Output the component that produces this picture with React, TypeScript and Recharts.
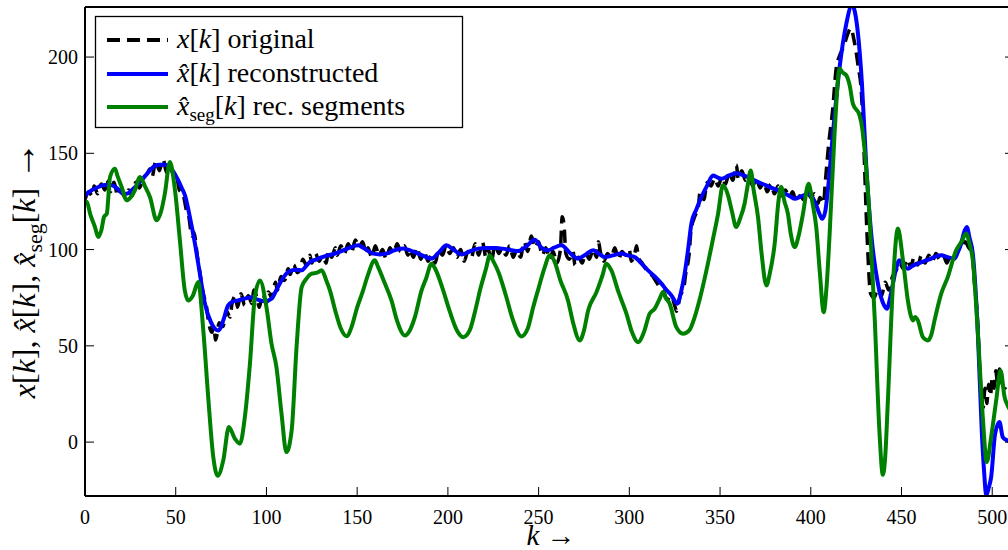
import React from "react";
import { LineChart, Line, XAxis, YAxis } from "recharts";

// axis ticks
const K_TICKS = [0, 50, 100, 150, 200, 250, 300, 350, 400, 450, 500];
const Y_TICKS = [0, 50, 100, 150, 200];

// x[k] original (noisy, dashed black)
const ORIG_K = [
  0, 2, 4, 5, 7, 9, 11, 12, 14, 16, 18, 20, 22, 24, 26, 28, 30, 32, 34, 36, 37, 39, 41, 43, 45, 47, 49, 50,
  52, 54, 56, 57, 59, 60, 62, 63, 65, 67, 68, 70, 71, 72, 74, 76, 78, 80, 81, 83, 84, 86, 88, 90, 92, 93,
  95, 96, 98, 100, 101, 103, 105, 106, 108, 110, 112, 113, 115, 117, 119, 120, 122, 124, 125, 127, 129, 131,
  133, 134, 136, 138, 139, 141, 143, 145, 147, 149, 151, 153, 155, 156, 158, 160, 162, 164, 166, 168, 170,
  172, 174, 176, 178, 179, 181, 183, 185, 187, 189, 191, 193, 195, 197, 199, 201, 203, 205, 207, 209, 211,
  213, 215, 217, 219, 221, 222, 224, 226, 228, 230, 232, 234, 236, 238, 240, 242, 244, 246, 248, 250, 252,
  254, 256, 258, 260, 262, 263, 264, 265, 267, 269, 270, 272, 274, 276, 278, 280, 282, 283, 284, 286, 288,
  290, 292, 294, 296, 298, 300, 301, 303, 304, 305, 307, 309, 311, 313, 315, 317, 319, 321, 323, 325, 326,
  328, 330, 331, 333, 334, 336, 338, 339, 341, 343, 345, 347, 349, 351, 353, 355, 357, 359, 360, 362, 364,
  366, 368, 370, 372, 374, 376, 378, 380, 382, 384, 386, 388, 390, 392, 394, 396, 398, 400, 402, 404, 405,
  407, 408, 410, 412, 414, 416, 418, 420, 422, 424, 426, 428, 429, 431, 433, 435, 437, 439, 441, 443, 445,
  447, 449, 451, 453, 455, 457, 459, 461, 463, 465, 467, 469, 471, 473, 475, 477, 479, 481, 483, 485, 487,
  489, 490, 492, 493, 494, 495, 496, 497, 498, 499, 500, 501, 502, 503, 504, 505, 507, 509, 511,
];
const ORIG_X = [
  126, 130, 128, 133, 129, 134, 131, 136, 130, 135, 128, 131, 127, 131, 128, 135, 132, 137, 139, 142, 138, 146, 141, 147, 140, 143, 138, 140,
  131, 129, 120, 118, 107, 109, 96, 90, 78, 70, 63, 57, 60, 53, 62, 60, 68, 65, 72, 76, 70, 77, 71, 76, 72, 79,
  74, 70, 77, 72, 78, 75, 83, 79, 86, 84, 90, 87, 92, 88, 91, 95, 92, 97, 93, 98, 94, 97,
  93, 99, 96, 101, 97, 102, 98, 103, 99, 105, 101, 104, 98, 101, 96, 102, 97, 100, 95, 101, 98,
  103, 99, 102, 97, 100, 96, 101, 95, 99, 94, 97, 93, 100, 97, 102, 98, 101, 96, 100, 94, 99,
  96, 103, 97, 104, 96, 101, 94, 103, 98, 101, 97, 102, 96, 100, 96, 104, 99, 107, 101, 104, 97,
  101, 95, 99, 93, 100, 117, 113, 98, 95, 99, 92, 96, 93, 98, 95, 100, 96, 104, 99, 94, 98,
  96, 101, 95, 99, 97, 100, 94, 98, 102, 96, 93, 90, 88, 86, 83, 80, 78, 74, 76, 71, 68,
  76, 80, 87, 98, 110, 117, 122, 130, 126, 135, 133, 137, 133, 138, 134, 140, 136, 144, 137, 141, 136,
  138, 133, 137, 132, 135, 130, 134, 129, 133, 128, 131, 127, 130, 125, 128, 126, 131, 127, 129, 124, 127,
  124, 135, 156, 172, 194, 201, 205, 211, 215, 208, 196, 180, 160, 108, 77, 75, 80, 76, 83, 79, 86,
  89, 93, 90, 95, 91, 96, 92, 97, 93, 97, 94, 98, 95, 97, 93, 97, 95, 100, 102, 104, 101,
  98, 85, 62, 40, 25, 18, 28, 20, 30, 24, 33, 28, 37, 30, 38, 32, 28, 31, 29,
];

// x^[k] reconstructed (blue)
const REC_K = [
  0, 1, 4, 7.3, 11, 14.7, 18, 21, 23, 26, 29.4, 32.5, 35.8, 38.5, 41.3, 44, 46.8, 49, 51.4, 53.3, 55.1, 57.8,
  60.6, 63.3, 66.1, 69.4, 71.5, 73.4, 75, 76.2, 78.9, 81.5, 84.4, 88, 91.8, 95, 99.1, 102.8, 105.5, 108.3,
  111, 113.9, 116.5, 119.4, 121.5, 123.9, 126.7, 128.5, 132, 137.7, 142, 146, 150.6, 154, 158.8, 162.5,
  166.2, 170, 175.3, 179.5, 183.6, 187, 191, 195, 199.2, 203, 207.5, 212, 216.7, 221, 225.8, 230, 234.5,
  238.7, 243, 247.9, 251.5, 255.2, 258.5, 262.6, 267, 271.7, 276, 280, 283, 286.4, 291, 295.6, 299, 303,
  306.5, 310.3, 314, 317.7, 320.5, 323.2, 326.5, 328.5, 330.5, 332.5, 334.2, 337, 339.7, 343, 346.1, 348.5,
  350.7, 355, 359, 363, 367.2, 371, 375, 378.5, 381.9, 385, 388, 391.1, 394.5, 398.4, 401, 403, 404.8,
  406.3, 408, 409.4, 412.2, 415.9, 419.6, 422.7, 426, 428.2, 430.6, 433.3, 437, 439.5, 442.1, 443.5, 445.3,
  447, 448.9, 451, 453.5, 456, 459, 462.5, 466.4, 469, 471.9, 475.5, 479.2, 481, 482.9, 484.5, 486, 487.5,
  489.3, 492.1, 494.3, 495.5, 496.7, 498, 499.4, 501.6, 504, 505.8, 508.2, 511,
];
const REC_X = [
  128, 129, 131, 132.5, 133.5, 133.4, 131.5, 129, 129, 131, 134.2, 137.5, 141.1, 143.5, 144.1, 144, 142.9, 140, 135.9, 132, 128.2, 116.9,
  103.1, 87.5, 71.9, 62.3, 59, 58, 60, 63.2, 71, 73, 73.6, 74.5, 75.3, 74, 73.1, 74.5, 79, 84,
  87.5, 89.2, 89.5, 89.2, 91, 93.5, 94.6, 95.3, 96.5, 97.9, 99.5, 101, 102.2, 100.5, 97.9, 97.5,
  97.9, 99.5, 100.5, 99.5, 97.9, 96.5, 95.3, 98.5, 102.2, 100, 97.5, 99, 100.5, 100.8, 100.8, 100.5, 99.8,
  99.2, 101.5, 105.1, 101, 99.6, 101, 102.2, 98.5, 95.3, 97.5, 99.6, 98, 96.1, 97, 97.9, 97, 96.1,
  93, 89.2, 86, 82.3, 79, 76.2, 71.9, 78, 87.5, 101, 113.5, 121, 127.3, 133.5, 138.5, 137.5,
  136.8, 138.5, 139.7, 138.5, 136.8, 135, 133.5, 132, 130.8, 129.5, 128, 126.4, 127.5, 129, 127, 123, 118.5,
  116, 120, 130.8, 160.2, 194.8, 217.4, 227, 212.2, 186.2, 142.9, 108.3, 82.3, 73, 69.3, 74, 82.3,
  90, 94.4, 92, 90.1, 91.5, 92.7, 94, 95.3, 96.5, 97, 96, 95.3, 98.5, 103.1, 109, 111.7, 106,
  97.9, 56.3, 4.4, -15, -27.7, -24, -18.2, 4.4, 10.4, 2.6, 0.9, 0,
];

// x^_seg[k] rec. segments (green)
const SEG_K = [
  0, 1, 3, 5.5, 7.3, 9, 10.5, 12, 13.8, 16.5, 18, 20.2, 23, 25, 27.5, 30.3, 33, 35.8, 39.5, 42, 44, 46.8,
  49.6, 52.3, 55, 56.9, 59.5, 62.4, 65.2, 67.9, 70.7, 73.1, 76.2, 79.3, 82.6, 85.4, 88.1, 90.9, 93.6, 96.4,
  100, 102.8, 105.5, 108.3, 111, 113.9, 116.6, 119.4, 122.1, 124.9, 128, 130.4, 133, 135, 138, 141, 144.2,
  147, 150, 153, 156, 159.7, 161.5, 165, 168.9, 172, 176.3, 179, 181.8, 185.5, 188, 191, 193, 197, 201,
  205, 208.4, 212, 215, 218, 221, 223.1, 225, 228, 232, 236, 240.5, 244, 247, 250, 253.4, 256.1, 258.9,
  262, 266.2, 269, 272.7, 275, 277.3, 281.9, 285, 287.4, 290.1, 294, 298.4, 301.5, 304.8, 308, 311.2, 314,
  316.5, 318.6, 320, 322.2, 325.9, 329.6, 333, 336, 339, 343.3, 346, 348.9, 351.6, 354.4, 356.5, 358.9,
  361, 363.5, 365, 366.9, 368.5, 370.9, 373, 375.5, 377.5, 380.1, 382.3, 383.7, 385.5, 387.4, 389, 391.1,
  393.5, 395.7, 398.8, 401, 403, 405, 407.1, 408.8, 410.4, 413.1, 415.9, 417.5, 419.6, 421.5, 423.2, 426.9,
  428.5, 429.7, 432.4, 435.2, 437.9, 439.7, 441, 442.5, 445.3, 448, 450.8, 453.5, 455, 456.3, 457.5, 459,
  461.8, 464.5, 466.5, 468.2, 471.9, 475.5, 480.1, 483, 485.6, 487.5, 489.3, 492.1, 494.8, 497, 499.4,
  502.2, 504.6, 506.8, 508.5, 511,
];
const SEG_X = [
  125, 124.7, 118, 111.7, 106.5, 110, 117, 118.6, 137.7, 142, 138, 132.5, 125.6, 127, 130.8, 137.7, 133, 127.3, 115.2, 120, 129, 145.5,
  130.8, 104.8, 78.8, 73.6, 76.2, 83.1, 58, 23.4, -7.8, -17.5, -9.5, 7.8, 1.8, -0.8, 13, 40.7, 75.3, 84,
  70.1, 51.1, 39, 14.8, -5.2, 6.1, 49.4, 80.5, 84.9, 87.5, 88, 89.2, 84, 78.8, 68, 59, 55,
  60, 70, 78, 87, 94.4, 91, 83, 73.6, 63, 55.4, 58, 64.9, 78.8, 85, 92.7, 90, 80, 68,
  58, 54.5, 58, 68, 80, 90, 97, 94, 88, 76, 63, 54.9, 59, 70, 80, 90.9, 97, 93.5,
  84, 73.6, 62, 52.8, 58, 68.4, 77.9, 86, 92.7, 89.2, 78, 66.7, 57, 51.9, 57, 66.7, 69.3,
  74, 77.9, 75, 71.9, 59.7, 56.3, 58, 64.9, 75, 92.7, 105, 118.6, 133.4, 128.2, 120, 111.7,
  116, 123.8, 132, 141.1, 131, 116.9, 97, 81.4, 88, 103, 126, 132.5, 125, 118.6, 108, 101.3,
  108, 118.6, 134.2, 124, 111.7, 88, 67.5, 82, 108.3, 160.2, 194, 192, 190.5, 185, 175.8, 169.7,
  162, 151.5, 116.9, 64.9, 4.4, -17, -8, 21.7, 82.3, 110.9, 94.4, 73.6, 66, 63.2, 65, 63.2,
  54.5, 52.8, 56, 63.2, 77.1, 85.7, 99.6, 104, 108.3, 103, 94.4, 56.3, 13, -10.4, 2.6,
  21.7, 37.2, 23.4, 19, 15,
];

const origData = ORIG_K.map((k, i) => ({ k, v: ORIG_X[i] }));
const recData = REC_K.map((k, i) => ({ k, v: REC_X[i] }));
const segData = SEG_K.map((k, i) => ({ k, v: SEG_X[i] }));

const SERIF = "'Liberation Serif', 'DejaVu Serif', serif";
const tickFont = { fontFamily: SERIF, fontSize: 20, fill: "#000" };
const axisLineStyle = { stroke: "#000", strokeWidth: 2 };
const tickLineStyle = { stroke: "#000", strokeWidth: 1 };

function Legend() {
  const rows = [
    { y: 24, color: "#000", dash: "13 7" },
    { y: 58, color: "#0000ff", dash: undefined },
    { y: 91, color: "#008000", dash: undefined },
  ];
  return (
    <svg
      width={368}
      height={112}
      style={{ position: "absolute", left: 95, top: 16, overflow: "visible" }}
    >
      <rect x={0.5} y={0.5} width={367} height={111} fill="#fff" stroke="#000" strokeWidth={1.3} />
      {rows.map((r, i) => (
        <line key={i} x1={12} x2={73} y1={r.y} y2={r.y} stroke={r.color} strokeWidth={4} strokeDasharray={r.dash} />
      ))}
      <text x={82} y={32} fontFamily={SERIF} fontSize={28} fill="#000">
        <tspan fontStyle="italic">x</tspan>[<tspan fontStyle="italic">k</tspan>] original
      </text>
      <text x={82} y={66} fontFamily={SERIF} fontSize={28} fill="#000">
        <tspan fontStyle="italic">x̂</tspan>[<tspan fontStyle="italic">k</tspan>] reconstructed
      </text>
      <text x={82} y={99} fontFamily={SERIF} fontSize={28} fill="#000">
        <tspan fontStyle="italic">x̂</tspan>
        <tspan fontSize={19} dy={6}>seg</tspan>
        <tspan dy={-6}>[</tspan>
        <tspan fontStyle="italic">k</tspan>] rec. segments
      </text>
    </svg>
  );
}

export default function App() {
  return (
    <div style={{ position: "fixed", left: 0, top: 0, width: 1008, height: 550, overflow: "hidden", background: "#fff" }}>
      <LineChart width={1030} height={550} margin={{ top: 6, right: 15, bottom: 53, left: 84 }}>
        <XAxis
          xAxisId={0}
          dataKey="k"
          type="number"
          domain={[0, 512]}
          allowDataOverflow
          ticks={K_TICKS}
          interval={0}
          height={1}
          tickSize={-9}
          tickMargin={23}
          tick={tickFont}
          axisLine={axisLineStyle}
          tickLine={tickLineStyle}
          label={{
            content: () => (
              <text x={551} y={545} textAnchor="middle" fontFamily={SERIF} fontSize={29} fill="#000">
                <tspan fontStyle="italic">k</tspan> →
              </text>
            ),
          }}
        />
        <XAxis
          xAxisId="top"
          orientation="top"
          type="number"
          domain={[0, 512]}
          allowDataOverflow
          ticks={K_TICKS}
          interval={0}
          height={1}
          tickSize={-9}
          tickFormatter={() => ""}
          axisLine={axisLineStyle}
          tickLine={tickLineStyle}
        />
        <YAxis
          yAxisId={0}
          type="number"
          domain={[-28, 226]}
          allowDataOverflow
          ticks={Y_TICKS}
          interval={0}
          width={1}
          tickSize={-9}
          tickMargin={16}
          tick={tickFont}
          axisLine={axisLineStyle}
          tickLine={tickLineStyle}
          label={{
            content: () => (
              <text
                x={35}
                y={270}
                transform="rotate(-90 35 270)"
                textAnchor="middle"
                fontFamily={SERIF}
                fontSize={32}
                fill="#000"
              >
                <tspan fontStyle="italic">x</tspan>[<tspan fontStyle="italic">k</tspan>],{" "}
                <tspan fontStyle="italic">x̂</tspan>[<tspan fontStyle="italic">k</tspan>],{" "}
                <tspan fontStyle="italic">x̂</tspan>
                <tspan fontSize={22} dy={7}>seg</tspan>
                <tspan dy={-7}>[</tspan>
                <tspan fontStyle="italic">k</tspan>]{" "}
                <tspan fontSize={38}>→</tspan>
              </text>
            ),
          }}
        />
        <YAxis
          yAxisId="right"
          orientation="right"
          type="number"
          domain={[-28, 226]}
          allowDataOverflow
          ticks={Y_TICKS}
          interval={0}
          width={1}
          tickSize={-9}
          tickFormatter={() => ""}
          axisLine={axisLineStyle}
          tickLine={tickLineStyle}
        />
        <Line
          data={origData}
          dataKey="v"
          type="monotone"
          stroke="#000"
          strokeWidth={3.5}
          strokeDasharray="13 7"
          dot={false}
          isAnimationActive={false}
        />
        <Line
          data={recData}
          dataKey="v"
          type="monotone"
          stroke="#0000ff"
          strokeWidth={4}
          dot={false}
          isAnimationActive={false}
        />
        <Line
          data={segData}
          dataKey="v"
          type="monotone"
          stroke="#008000"
          strokeWidth={4}
          dot={false}
          isAnimationActive={false}
        />
      </LineChart>
      <Legend />
    </div>
  );
}
